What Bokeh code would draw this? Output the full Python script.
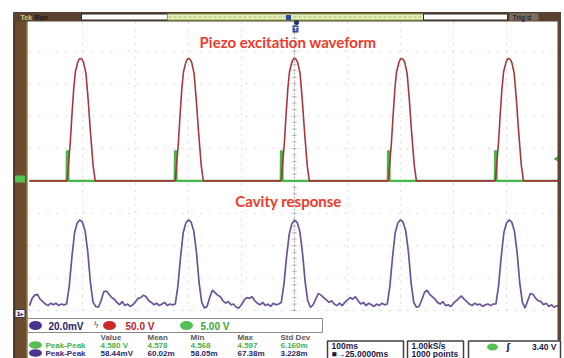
import numpy as np
from bokeh.plotting import figure
from bokeh.models import Range1d
from bokeh.core.properties import value
from bokeh.embed import file_html
from bokeh.resources import INLINE

# ------------------------------------------------------------------ data
# horizontal: 100 ms/div, 10 divisions, trigger (t = 0) at screen centre
time_div_ticks_ms = [-400, -300, -200, -100, 100, 200, 300, 400]
volt_div_ticks = [0, 1, 2, 3, 4, 5, 6, 7, 8]

red_peak_t_ms = [-404, -200, 0, 202, 404]
red_pulse_dt_ms = [-25, -19, -16, -12.5, -9.5, -5, -2.5, 0, 3, 6, 10.5, 14.5, 19, 24, 28]
red_pulse_V = [0, 60, 101, 143, 168, 183, 187.5, 189, 187.5, 183, 166, 127, 75, 24, 0]

# CH3 (green) sync pulse, 5.00 V/div
green_pulse_dt_ms = [-26, -25.5, -23, -22.5]
green_pulse_V = [0, 4.58, 4.58, 0]
trigger_level_V = 3.40

# CH1 (purple) cavity response, 20.0 mV/div, sampled every 5 ms from -500 ms
purple_t_ms = list(range(-500, 505, 5))
purple_mV = [
    3.0, 7.5, 9.5, 10.0, 7.0, 5.5, 4.0, 3.0, 4.5, 3.5, 4.5, 3.0, 4.0, 3.5,
    4, 15, 33, 48, 54, 56, 54.5, 49, 36, 17, 5, 2.5,
    2.0, 6.0, 11.5, 12.0, 10.0, 8.0, 7.0, 5.0, 3.5, 5.5, 3.0, 4.0, 2.5, 3.5,
    5.5, 7.5, 8.0, 9.5, 8.5, 6.0, 5.0, 3.5, 4.5, 3.0, 4.0, 5.0, 3.0, 4.0, 3.5,
    4, 15, 33, 48, 54, 56, 54.5, 49, 36, 17, 5, 1.5,
    2.5, 8.0, 12.5, 11.0, 9.5, 8.5, 6.0, 4.5, 5.5, 3.5, 4.0, 2.0, 1.5, 3.5,
    6.5, 8.0, 7.5, 8.5, 6.0, 4.5, 3.5, 5.0, 3.0, 4.0, 2.5, 4.5, 3.5, 4.0,
    5, 16, 33, 47, 53.5, 55.5, 54.5, 49, 36, 18, 6, 2.0,
    3.5, 7.0, 10.5, 9.5, 8.0, 6.5, 5.0, 6.0, 4.0, 3.0, 4.5, 3.0, 5.0, 6.5,
    8.0, 7.0, 8.5, 6.0, 4.0, 5.0, 3.0, 4.5, 3.5, 2.5, 4.0, 3.0, 4.5, 3.5,
    4, 15, 33, 48, 54, 56, 54.5, 49, 36, 17, 5, 2.0,
    2.5, 6.5, 11.0, 12.5, 10.0, 8.5, 7.0, 5.0, 4.0, 5.5, 3.0, 3.5, 2.5, 4.5,
    6.0, 7.5, 9.0, 7.0, 5.5, 4.0, 3.0, 4.5, 3.5, 4.0, 2.5, 3.5, 4.0, 3.0, 4.0,
    4, 15, 33, 48, 54, 56, 54.5, 49, 36, 17, 5, 1.5,
    6.0, 10.5, 10.0, 7.5, 6.0, 5.5, 3.5, 4.5, 2.5, 3.5, 2.0, 3.0, 2.5,
]
assert len(purple_mV) == len(purple_t_ms)

# on-screen texts
title_top = "Piezo excitation waveform"
title_bottom = "Cavity response"
channel_scales = ["20.0mV", "50.0 V", "5.00 V"]
meas_headers = ["Value", "Mean", "Min", "Max", "Std Dev"]
meas_name = "Peak-Peak"
green_meas = ["4.580 V", "4.578", "4.568", "4.597", "6.160m"]
purple_meas = ["58.44mV", "60.02m", "58.05m", "67.38m", "3.228m"]
horiz_info = ["100ms", "\u25a0\u219225.0000ms"]
acq_info = ["1.00kS/s", "1000 points"]
trig_info = "3.40 V"

# build the traces from the pulse tables
red_t, red_v = [-500], [0]
green_t, green_v = [-500], [0]
for pk in red_peak_t_ms:
    red_t += [pk + d for d in red_pulse_dt_ms]
    red_v += red_pulse_V
    green_t += [pk + d for d in green_pulse_dt_ms]
    green_v += green_pulse_V
red_t.append(500); red_v.append(0)
green_t.append(500); green_v.append(0)

# ------------------------------------------------------------------ layout
W, H = 564, 358
LX0, LX1 = 0, W             # screen-layout coordinates
LY_BOT, LY_TOP = H, 0
XC, PX_MS = 294, 0.53       # centre of graticule, pixels per ms
YB, PX_DIV = 310, 32.4      # graticule bottom, pixels per division

t0, t1 = (LX0 - XC) / PX_MS, (LX1 - XC) / PX_MS
d0, d1 = (YB - LY_BOT) / PX_DIV, (YB - LY_TOP) / PX_DIV

p = figure(width=W, height=H,
           x_range=Range1d(LX0, LX1), y_range=Range1d(LY_BOT, LY_TOP),
           extra_x_ranges={"t": Range1d(t0, t1)},
           extra_y_ranges={"div": Range1d(d0, d1),
                           "red": Range1d((d0 - 4) * 50, (d1 - 4) * 50),
                           "green": Range1d((d0 - 4) * 5, (d1 - 4) * 5),
                           "purple": Range1d(d0 * 20, d1 * 20)},
           output_backend="svg", toolbar_location=None,
           x_axis_location=None, y_axis_location=None, min_border=0)
p.grid.visible = False
p.outline_line_color = None
p.background_fill_color = "#ffffff"
p.border_fill_color = "#ffffff"

# graticule
p.segment(x0=time_div_ticks_ms, x1=time_div_ticks_ms, y0=0, y1=8.95,
          x_range_name="t", y_range_name="div",
          line_color="#bdbdbd", line_width=1, line_dash="1 6")
p.segment(x0=-500, x1=500, y0=volt_div_ticks, y1=volt_div_ticks,
          x_range_name="t", y_range_name="div",
          line_color="#bdbdbd", line_width=1, line_dash="1 8")
p.segment(x0=0, x1=0, y0=0, y1=9, x_range_name="t", y_range_name="div",
          line_color="#a8a8a8", line_width=1, line_dash="2 2")
ticks_d = list(np.arange(0, 9.01, 0.2))
p.segment(x0=-4, x1=4, y0=ticks_d, y1=ticks_d, x_range_name="t",
          y_range_name="div", line_color="#b0b0b0", line_width=1)

# traces
p.line(green_t, green_v, x_range_name="t", y_range_name="green",
       line_color="#46b84a", line_width=2.2)
p.line(red_t, red_v, x_range_name="t", y_range_name="red",
       line_color="#a8363e", line_width=1.6)
p.line(purple_t_ms, purple_mV, x_range_name="t", y_range_name="purple",
       line_color="#6c5298", line_width=1.7)

# trigger level marker (right edge, green)
p.scatter([497], [trigger_level_V], x_range_name="t", y_range_name="green",
          marker="triangle", angle=1.5708, size=6, fill_color="#52c452",
          line_color="#3a9a3a")

# annotations
p.text([287.5], [41], text=[title_top], text_font=value("Lato"),
       text_font_style="bold", text_font_size="15px", text_color="#ee3a2a",
       text_align="center", text_baseline="middle")
p.text([288], [200], text=[title_bottom], text_font=value("Lato"),
       text_font_style="bold", text_font_size="15px", text_color="#ee3a2a",
       text_align="center", text_baseline="middle")

# frame: left border, top bar, right border
p.quad(left=13, right=27, top=12, bottom=358, fill_color="#6b4c2e", line_color=None)
p.segment(x0=13.5, x1=13.5, y0=12, y1=358, line_color="#3a2818", line_width=1.5)
p.segment(x0=26.5, x1=26.5, y0=21, y1=358, line_color="#a09850", line_width=1)
p.quad(left=557, right=560.5, top=12, bottom=340, fill_color="#5e4430", line_color=None)
p.quad(left=13, right=560.5, top=11.5, bottom=21, fill_color="#5a4232", line_color=None)
p.quad(left=81, right=167, top=13.5, bottom=19.5, fill_color="#ffffff", line_color="#2a2a2a")
p.quad(left=167, right=423, top=13.5, bottom=19.5, fill_color="#e6efc0", line_color="#8aa040")
p.segment(x0=168, x1=422, y0=16.5, y1=16.5, line_color="#a8c060", line_dash="3 2")
p.quad(left=423, right=507, top=13.5, bottom=19.5, fill_color="#ffffff", line_color="#2a2a2a")
p.quad(left=509, right=538, top=13, bottom=20, fill_color="#7e6e5e", line_color=None)
p.text([20], [16.7], text=["Tek"], text_font=value("Liberation Sans"),
       text_font_style="bold", text_font_size="7px", text_color="#e2c870",
       text_baseline="middle")
p.text([34], [16.7], text=["Run"], text_font=value("Liberation Sans"),
       text_font_style="bold", text_font_size="7px", text_color="#1a1a1a",
       text_baseline="middle")
p.text([512], [16.7], text=["Trig'd"], text_font=value("Liberation Sans"),
       text_font_style="bold", text_font_size="7px", text_color="#2a2a2a",
       text_baseline="middle")
p.rect([288], [17], width=5, height=5, fill_color="#2a4aa0", line_color=None)
p.scatter([296], [22], marker="circle", size=5, fill_color="#203070", line_color=None)
p.rect([295], [28.5], width=6, height=7, fill_color="#3050a8", line_color=None)
p.text([295], [28.7], text=["T"], text_font=value("Liberation Sans"),
       text_font_style="bold", text_font_size="6px", text_color="#ffffff",
       text_align="center", text_baseline="middle")

# ground markers on left border
p.rect([19.5], [178.5], width=10, height=7, fill_color="#52c452", line_color=None)
p.rect([19.5], [313], width=10, height=8, fill_color="#eeeef4", line_color="#3a3050")
p.text([19.5], [313.3], text=["1\u25b8"], text_font=value("DejaVu Sans"),
       text_font_style="bold", text_font_size="6px", text_color="#2a2050",
       text_align="center", text_baseline="middle")

# status area
SF = value("Liberation Sans")
p.quad(left=27, right=322, top=318, bottom=332, fill_color="#ffffff", line_color="#8a8a8a")
p.ellipse([35, 109, 186], [325, 325, 325], width=13, height=9,
          fill_color=["#4b3390", "#cc2a2a", "#56c056"], line_color=None)
p.text([48, 125, 200], [325.5] * 3, text=channel_scales, text_font=SF,
       text_font_style="bold", text_font_size="10px",
       text_color=["#2a2268", "#b8262a", "#3aa83a"], text_baseline="middle")
p.text([93], [325], text=["\u03df"], text_font=value("DejaVu Sans"),
       text_font_size="8px", text_color="#555555", text_baseline="middle")

col_x = [100, 147, 190, 237, 280]
p.text(col_x, [337] * 5, text=meas_headers, text_font=SF, text_font_style="bold",
       text_font_size="8px", text_color="#5a5a5a", text_baseline="middle")
p.ellipse([35, 35], [344.5, 352.5], width=13, height=7.5,
          fill_color=["#56c056", "#4b3390"], line_color=None)
p.text([45, 45], [344.5, 352.5], text=[meas_name, meas_name], text_font=SF,
       text_font_style="bold", text_font_size="8px",
       text_color=["#46b04a", "#3a2a78"], text_baseline="middle")
p.text(col_x, [344.5] * 5, text=green_meas, text_font=SF, text_font_style="bold",
       text_font_size="8px", text_color="#46b04a", text_baseline="middle")
p.text(col_x, [352.5] * 5, text=purple_meas, text_font=SF, text_font_style="bold",
       text_font_size="8px", text_color="#2a2a6a", text_baseline="middle")

# right-hand info boxes
p.quad(left=[327, 407, 468], right=[403, 463, 560], top=340.5, bottom=360,
       fill_color="#ffffff", line_color="#404040", line_width=1.5)
p.text([331, 331], [345.5, 353.5], text=horiz_info, text_font=SF,
       text_font_style="bold", text_font_size="8.5px", text_color="#1a1a48",
       text_baseline="middle")
p.text([411, 411], [345.5, 353.5], text=acq_info, text_font=SF,
       text_font_style="bold", text_font_size="8.5px", text_color="#1a1a48",
       text_baseline="middle")
p.ellipse([492], [346.5], width=11, height=7, fill_color="#56c056", line_color=None)
p.text([506], [346.5], text=["\u0283"], text_font=value("DejaVu Sans"),
       text_font_style="bold", text_font_size="9px", text_color="#1a1a48",
       text_baseline="middle")
p.text([556], [346.5], text=[trig_info], text_font=SF, text_font_style="bold",
       text_font_size="8.5px", text_color="#1a1a48", text_align="right",
       text_baseline="middle")

open("out.html", "w").write(file_html(p, INLINE))
